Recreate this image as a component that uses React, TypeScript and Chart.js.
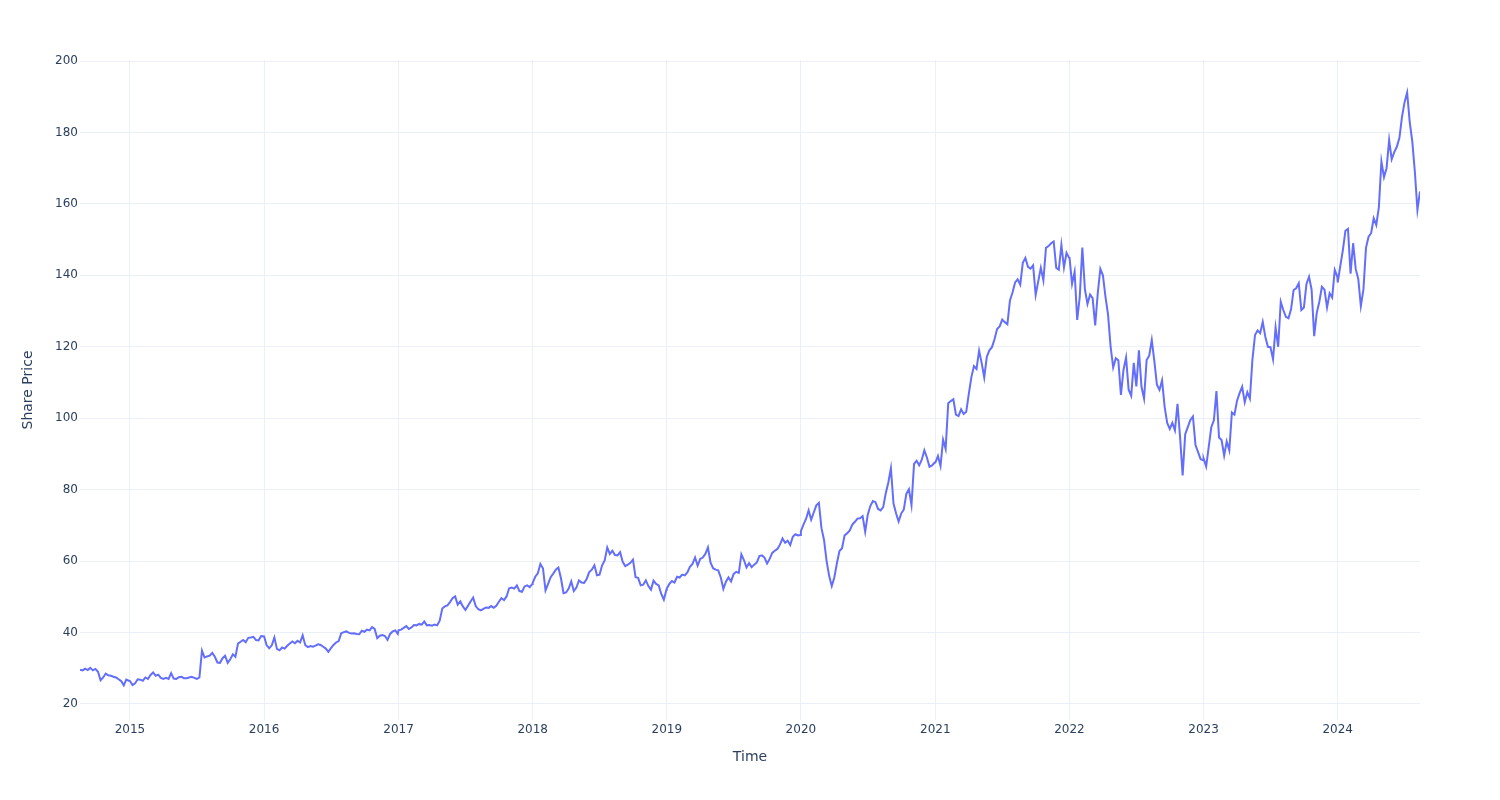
import React, { useEffect, useRef } from "react";
import { Chart, registerables } from "chart.js";

Chart.register(...registerables);

// Weekly share prices (one value per week).
const prices2014 = [29.6, 29.4, 29.9, 29.5, 30.1, 29.4, 29.8, 29.0, 26.6, 27.4, 28.5, 28.0, 27.9, 27.6, 27.4, 26.9, 26.4, 25.2, 26.8, 26.5];
const prices2015 = [26.4, 25.3, 25.8, 26.9, 26.8, 26.5, 27.4, 27.0, 28.1, 28.8, 27.9, 28.2, 27.3, 27.0, 27.3, 27.0, 28.6, 27.1, 27.0, 27.5, 27.6, 27.2, 27.2, 27.4, 27.6, 27.3, 27.0, 27.4, 34.9, 33.0, 33.3, 33.5, 34.3, 33.2, 31.6, 31.5, 32.8, 33.5, 31.5, 32.5, 33.9, 33.2, 36.9, 37.4, 37.9, 37.3, 38.5, 38.6, 38.8, 37.9, 37.8, 39.0];
const prices2016 = [38.9, 36.4, 35.6, 36.4, 38.6, 35.4, 35.0, 35.8, 35.5, 36.3, 36.9, 37.5, 37.0, 37.7, 37.2, 39.2, 36.5, 35.9, 36.2, 36.0, 36.3, 36.7, 36.5, 36.0, 35.5, 34.6, 35.6, 36.5, 37.2, 37.6, 39.8, 40.1, 40.3, 39.9, 39.7, 39.8, 39.6, 39.5, 40.5, 40.2, 40.8, 40.6, 41.5, 41.0, 38.4, 39.1, 39.3, 39.0, 37.9, 39.6, 40.3, 40.6, 39.6];
const prices2017 = [40.6, 40.8, 41.3, 41.8, 41.0, 41.4, 42.1, 42.0, 42.4, 42.2, 43.1, 42.0, 42.1, 41.9, 42.2, 42.0, 43.3, 46.7, 47.3, 47.6, 48.5, 49.6, 50.1, 47.8, 48.7, 47.3, 46.3, 47.5, 48.7, 49.8, 47.4, 46.5, 46.2, 46.6, 47.0, 46.9, 47.4, 46.9, 47.5, 48.6, 49.6, 49.1, 50.1, 52.4, 52.6, 52.3, 53.2, 51.6, 51.4, 52.9, 53.2, 52.7, 53.6];
const prices2018 = [53.9, 55.6, 56.6, 59.2, 58.0, 51.8, 53.6, 55.5, 56.5, 57.6, 58.2, 55.2, 51.0, 51.2, 52.3, 54.3, 51.6, 52.6, 54.6, 54.0, 53.9, 55.0, 56.9, 57.6, 58.8, 56.0, 56.2, 58.8, 60.2, 63.8, 62.0, 62.9, 61.7, 61.6, 62.5, 59.8, 58.6, 59.0, 59.5, 60.4, 55.5, 55.3, 53.2, 53.4, 54.6, 53.0, 52.0, 54.5, 53.6, 53.2, 50.8, 49.2, 52.0];
const prices2019 = [52.3, 53.6, 54.4, 54.0, 55.6, 55.4, 56.2, 56.0, 56.8, 58.4, 59.2, 61.0, 58.7, 60.6, 61.0, 62.0, 63.8, 59.6, 58.0, 57.6, 57.4, 55.4, 52.2, 54.2, 55.4, 54.3, 56.4, 57.0, 56.7, 61.9, 60.3, 58.2, 59.4, 58.3, 59.0, 59.6, 61.4, 61.6, 61.0, 59.3, 60.6, 62.3, 62.9, 63.4, 64.6, 66.3, 65.1, 65.7, 64.5, 66.8, 67.5, 67.2, 67.3];
const prices2020 = [68.4, 70.2, 71.8, 74.2, 71.6, 73.6, 75.6, 76.3, 69.2, 65.9, 60.0, 55.8, 53.0, 55.4, 59.4, 62.8, 63.6, 67.2, 67.8, 68.6, 70.2, 71.0, 71.9, 72.0, 72.6, 68.2, 73.0, 75.4, 76.8, 76.5, 74.6, 74.2, 75.1, 79.0, 82.0, 86.0, 76.2, 73.4, 71.1, 73.3, 74.4, 78.8, 80.1, 75.7, 87.2, 88.1, 86.8, 88.4, 91.0, 89.0, 86.4, 86.8, 87.6];
const prices2021 = [87.6, 89.4, 86.6, 94.0, 91.4, 104.2, 104.8, 105.3, 101.0, 100.6, 102.5, 101.2, 101.8, 106.8, 111.5, 114.6, 113.8, 118.9, 115.5, 111.4, 117.2, 119.0, 119.9, 122.1, 125.0, 125.7, 127.6, 126.9, 126.3, 133.0, 135.2, 138.0, 138.9, 137.4, 143.5, 144.9, 142.4, 141.9, 142.8, 134.5, 138.3, 142.1, 138.6, 147.7, 148.2, 149.0, 149.5, 142.1, 141.6, 148.5, 142.2, 146.3, 144.9];
const prices2022 = [145.1, 137.6, 141.0, 127.5, 134.0, 147.8, 136.1, 132.0, 134.6, 133.6, 126.0, 135.0, 141.8, 140.0, 134.0, 129.0, 120.0, 114.2, 116.8, 116.2, 106.5, 113.5, 117.0, 108.0, 106.3, 115.5, 108.9, 119.0, 108.8, 105.5, 116.3, 117.5, 121.9, 116.0, 109.4, 107.9, 110.6, 103.2, 98.7, 97.0, 98.7, 96.6, 104.0, 94.7, 84.0, 95.5, 97.5, 99.5, 100.5, 92.5, 90.5, 88.5, 88.2];
const prices2023 = [88.7, 86.5, 92.0, 97.5, 99.4, 107.6, 94.6, 93.9, 89.5, 93.5, 91.0, 101.6, 101.0, 104.9, 107.0, 108.8, 104.5, 107.3, 105.5, 116.5, 123.3, 124.6, 123.8, 127.0, 122.8, 120.0, 119.9, 116.5, 125.4, 120.0, 132.6, 130.3, 128.4, 128.0, 130.5, 135.9, 136.4, 137.8, 130.3, 131.0, 137.6, 139.6, 136.0, 123.0, 129.5, 132.6, 136.8, 136.0, 131.0, 135.0, 133.8, 141.5, 139.6];
const prices2024 = [138.0, 142.6, 147.0, 152.5, 153.0, 140.5, 149.0, 141.8, 139.0, 131.4, 136.0, 147.7, 150.8, 151.8, 156.0, 154.1, 159.0, 171.9, 167.5, 170.0, 177.9, 172.5, 174.5, 176.0, 178.5, 184.4, 188.5, 191.2, 183.0, 177.5, 169.0, 158.3, 163.5];

// Each year's weekly series: first sample's day-of-year offset.
const yearStarts = [2014, 2015, 2016, 2017, 2018, 2019, 2020, 2021, 2022, 2023, 2024];
const yearOffsets = [229, 0, 0, 0, 0, 0, 0, 0, 0, 0, 0];
const yearValues = [prices2014, prices2015, prices2016, prices2017, prices2018, prices2019, prices2020, prices2021, prices2022, prices2023, prices2024];

const yTickValues = [20, 40, 60, 80, 100, 120, 140, 160, 180, 200];
const xTickYears = [2015, 2016, 2017, 2018, 2019, 2020, 2021, 2022, 2023, 2024];

const DAY_MS = 86400000;
const FONT = "DejaVu Sans";
const TEXT_COLOR = "#2a3f5f";
const GRID_COLOR = "#EBF0F8";

function buildPoints() {
  const pts: { x: number; y: number }[] = [];
  yearStarts.forEach((year, i) => {
    const base = Date.UTC(year, 0, 1);
    yearValues[i].forEach((v, k) => {
      pts.push({ x: base + (yearOffsets[i] + 7 * k) * DAY_MS, y: v });
    });
  });
  return pts;
}

export default function App() {
  const canvasRef = useRef<HTMLCanvasElement | null>(null);

  useEffect(() => {
    const canvas = canvasRef.current;
    if (!canvas) return;
    const points = buildPoints();
    const chart = new Chart(canvas, {
      type: "line",
      data: {
        datasets: [
          {
            label: "Share Price",
            data: points,
            borderColor: "#636efa",
            backgroundColor: "#636efa",
            borderWidth: 2,
            pointRadius: 0,
            fill: false,
            tension: 0,
          },
        ],
      },
      options: {
        responsive: false,
        animation: false,
        devicePixelRatio: 1,
        events: [],
        layout: {
          autoPadding: false,
          padding: { left: 0, top: 60, right: 80, bottom: 0 },
        },
        plugins: {
          legend: { display: false },
          tooltip: { enabled: false },
        },
        scales: {
          x: {
            type: "linear",
            min: points[0].x,
            max: points[points.length - 1].x,
            afterBuildTicks: (scale: any) => {
              scale.ticks = xTickYears.map((y) => ({ value: Date.UTC(y, 0, 1) }));
            },
            afterFit: (scale: any) => {
              scale.height = 80;
              scale.paddingLeft = 0;
              scale.paddingRight = 0;
            },
            grid: { color: GRID_COLOR, lineWidth: 1, drawTicks: false },
            border: { display: false },
            ticks: {
              autoSkip: false,
              maxRotation: 0,
              padding: 3,
              color: TEXT_COLOR,
              font: { family: FONT, size: 12 },
              callback: (value: any) => String(new Date(Number(value)).getUTCFullYear()),
            },
            title: {
              display: true,
              text: "Time",
              color: TEXT_COLOR,
              font: { family: FONT, size: 14 },
              padding: { top: 0, bottom: 34 },
            },
          },
          y: {
            type: "linear",
            min: 15.5,
            max: 200.3,
            afterBuildTicks: (scale: any) => {
              scale.ticks = yTickValues.map((v) => ({ value: v }));
            },
            afterFit: (scale: any) => {
              scale.width = 80;
              scale.paddingTop = 0;
              scale.paddingBottom = 0;
            },
            grid: { color: GRID_COLOR, lineWidth: 1, drawTicks: false },
            border: { display: false },
            ticks: {
              padding: 2,
              color: TEXT_COLOR,
              font: { family: FONT, size: 12 },
              callback: (value: any) => String(value),
            },
            title: {
              display: true,
              text: "Share Price",
              color: TEXT_COLOR,
              font: { family: FONT, size: 14 },
              padding: { top: 19.5, bottom: 0 },
            },
          },
        },
      } as any,
    });
    return () => chart.destroy();
  }, []);

  return (
    <canvas
      ref={canvasRef}
      width={1500}
      height={800}
      style={{ position: "absolute", left: 0, top: 0, width: 1500, height: 800 }}
    />
  );
}
